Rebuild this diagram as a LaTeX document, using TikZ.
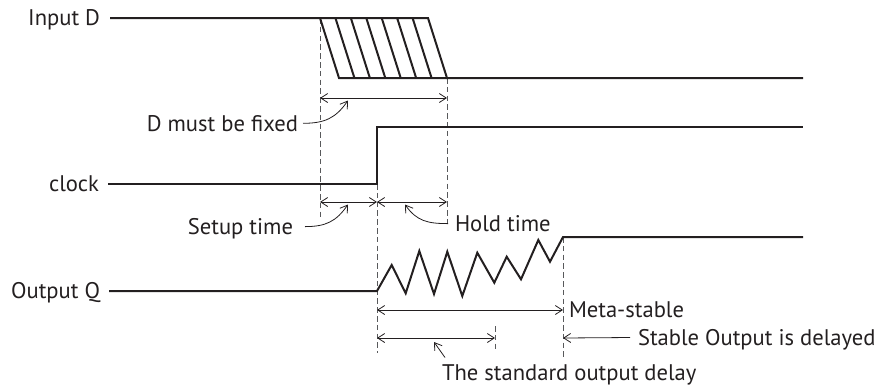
\documentclass[tikz,border=0pt]{standalone}
\usepackage{fontspec}
\setmainfont{PT Sans}
\usetikzlibrary{arrows.meta}
\definecolor{Trazo}{HTML}{231F20}
\definecolor{Guia}{HTML}{58595B}

\begin{document}
\begin{tikzpicture}[x=0.5pt,y=-0.5pt,>={Straight Barb[length=3.5pt,width=4.5pt]},
  every node/.style={font=\fontsize{11.3}{13}\selectfont,text=Trazo,inner sep=0pt,outer sep=0pt,text height=7.9pt,text depth=0pt},
  sig/.style={line width=1pt,Trazo,line join=miter},
  dim/.style={<->,line width=0.4pt,Trazo},
  ptr/.style={->,line width=0.4pt,Trazo},
  guia/.style={line width=0.4pt,Guia,dash pattern=on 2.8pt off 1.6pt}]
\useasboundingbox (0,0) rectangle (884,388);
% etiquetas de las senales
\node[anchor=east] (din) at (100,18) {Input D};
\node[anchor=east] (clk) at (99,184) {clock};
\node[anchor=east] (q) at (100,291) {Output Q};
% etiquetas de los tiempos
\node[anchor=east] (fix) at (298,123.3) {D must be fixed};
\node[anchor=east] (setup) at (293,226.6) {Setup time};
\node[anchor=west] (hold) at (455,223.6) {Hold time};
\node[anchor=west] (meta) at (569,310) {Meta-stable};
\node[anchor=west] (stb) at (638,337.5) {Stable Output is delayed};
\node[anchor=north west] (std) at (442,364.5) {The standard output delay};
% instantes de referencia
\coordinate (d1) at (320,18); \coordinate (d2) at (428,18);
\coordinate (d3) at (339,78); \coordinate (d4) at (447,78);
\coordinate (e1) at (377,184); \coordinate (e2) at (377,127);
\coordinate (z0) at (377,291); \coordinate (zf) at (563,237);
% lineas guia
\draw[guia] (d1) -- (320,217);
\draw[guia] (d4) -- (447,227);
\draw[guia] (e1) -- (377,353);
\draw[guia] (495,326) -- (495,351);
\draw[guia] (zf) -- (563,358);
% senal D
\draw[sig] ([xshift=5pt]din.east) -- (d2) -- (d4) -- (803,78);
\draw[sig] (d1) -- (d3) -- (d4);
\foreach \i in {1,...,6}
  \draw[sig] ({320+15.43*\i},18) -- ++(19,60);
% reloj
\draw[sig] ([xshift=4.5pt]clk.east) -- (e1) -- (e2) -- (803,127);
% salida Q
\draw[sig] ([xshift=4.5pt]q.east) -- (z0) -- (391.7,265) -- (405.7,293.3) -- (419.3,251)
  -- (434,294) -- (447.3,251.7) -- (462.3,296) -- (477.3,252.7) -- (494.3,282.7)
  -- (506.7,256.7) -- (521,279.3) -- (538.3,240) -- (550,261.7) -- (zf) -- (803,237);
% cotas
\draw[dim] (320,98) -- (447,98);
\draw[dim] (320,202) -- (377,202);
\draw[dim] (377,202) -- (447,202);
\draw[dim] (377,310) -- (563,310);
\draw[dim] (377,338) -- (495,338);
\draw[ptr] ([xshift=-4pt]stb.west) -- (563,338);
% indicadores
\draw[ptr] ([xshift=2.5pt]fix.east) to[out=0,in=-125,looseness=1.1] (348,100.5);
\draw[ptr] ([xshift=6pt]setup.east) to[out=0,in=-125,looseness=1.1] (348,204.5);
\draw[ptr] ([xshift=-3.5pt]hold.west) to[out=180,in=-55,looseness=1.1] (405,204.5);
\draw[ptr] ([shift={(3,-7)}]std.north west) -- (434,342);
\end{tikzpicture}
\end{document}
